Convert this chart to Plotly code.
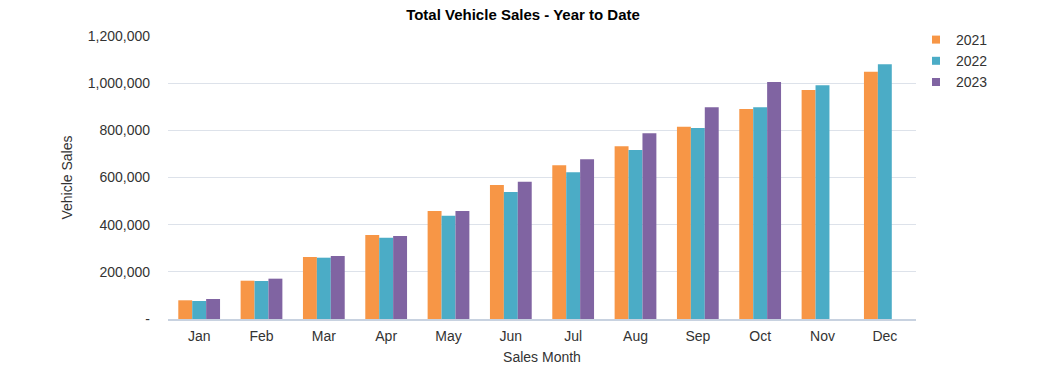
import plotly.graph_objects as go

months = ["Jan", "Feb", "Mar", "Apr", "May", "Jun", "Jul", "Aug", "Sep", "Oct", "Nov", "Dec"]
sales_2021 = [79300, 162400, 262900, 356200, 458000, 568000, 651700, 732000, 815500, 890500, 971000, 1048700]
sales_2022 = [76300, 161100, 260000, 344800, 438000, 538500, 622000, 716600, 810000, 897500, 991000, 1080000]
sales_2023 = [84800, 171000, 267100, 352000, 458000, 582000, 677000, 787400, 897500, 1005000, None, None]
years = ["2021", "2022", "2023"]
colors = ["#F79646", "#4BACC6", "#8064A2"]
y_tickvals = [0, 200000, 400000, 600000, 800000, 1000000, 1200000]
y_ticktext = ["-", "200,000", "400,000", "600,000", "800,000", "1,000,000", "1,200,000"]

FONT = "Liberation Sans, Arial, sans-serif"
W, H = 1039, 381

fig = go.Figure()
for name, vals, col in zip(years, [sales_2021, sales_2022, sales_2023], colors):
    fig.add_trace(go.Bar(x=months, y=vals, name=name, marker=dict(color=col, line=dict(width=0)),
                         showlegend=False))
    fig.add_trace(go.Scatter(x=[None], y=[None], mode="markers", name=name,
                             marker=dict(symbol="square", size=8, color=col), showlegend=True))

fig.update_layout(
    width=W, height=H,
    margin=dict(l=168, r=123, t=36, b=62, autoexpand=False),
    paper_bgcolor="white", plot_bgcolor="white",
    barmode="group", bargap=0.33, bargroupgap=0,
    font=dict(family=FONT, size=14, color="#333333"),
    title=dict(text="<b>Total Vehicle Sales - Year to Date</b>", x=523 / W, xanchor="center",
               y=1 - 15 / H, yanchor="middle", xref="container", yref="container",
               font=dict(family=FONT, size=15, color="#000000")),
    legend=dict(xref="container", yref="container", x=916 / W, y=1 - 24 / H,
                xanchor="left", yanchor="top",
                font=dict(family=FONT, size=14, color="#333333"), tracegroupgap=0,
                bgcolor="rgba(0,0,0,0)", itemwidth=30),
    xaxis=dict(title=dict(text="Sales Month", standoff=9, font=dict(size=14, color="#333333")),
               showgrid=False, showline=True, linecolor="#C8D2E0", linewidth=2,
               ticks="", ticklabelstandoff=3, tickfont=dict(size=14, color="#333333")),
    yaxis=dict(title=dict(text="Vehicle Sales", standoff=11, font=dict(size=14, color="#333333")),
               range=[0, 1200000], tickvals=y_tickvals, ticktext=y_ticktext,
               showgrid=True, gridcolor="#DDE2EA", gridwidth=1, zeroline=False,
               ticks="", ticklabelstandoff=17, tickfont=dict(size=14, color="#333333")),
)

# remove the browser's default 8px body margin so the figure fills the window exactly
fig.write_html("out.html", config={"displayModeBar": False},
               post_script="document.body.style.margin='0';")
